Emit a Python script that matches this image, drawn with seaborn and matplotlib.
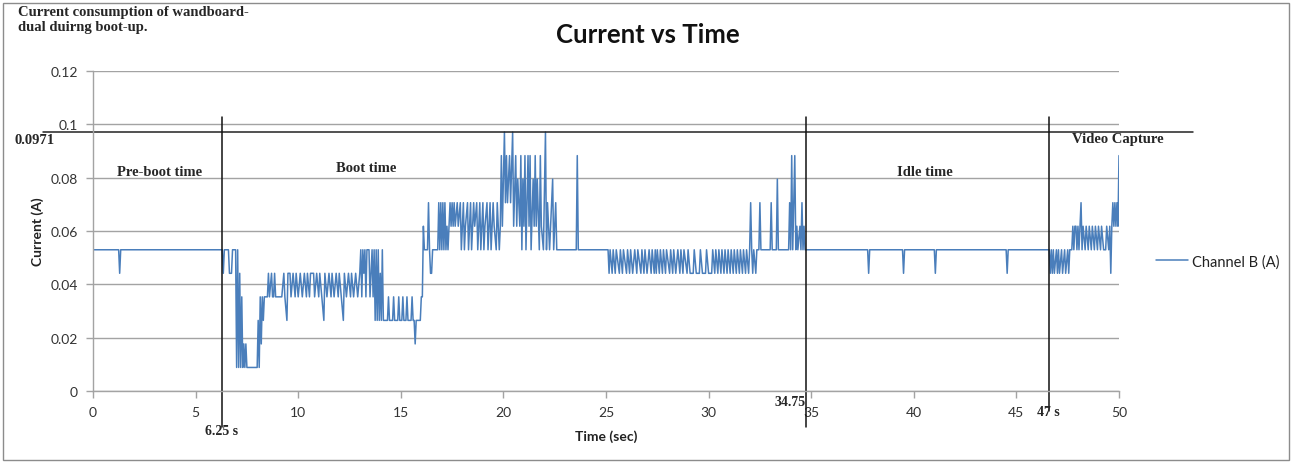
import numpy as np
import pandas as pd
import matplotlib
matplotlib.use("Agg")
import matplotlib.pyplot as plt
from matplotlib.patches import Rectangle
import seaborn as sns

# Channel B current, read off the scope capture. Samples are ADC counts,
# one count = PEAK / 11 amps (0.0971 A was the maximum seen = 11 counts).
PEAK = 0.0971
LSB = PEAK / 11

# (time s, counts) per phase
PREBOOT = [(0, 6), (1.25, 6), (1.3, 5), (1.35, 6), (6.3, 6)]

BOOT = [
    (6.35, 5), (6.4, 6), (6.6, 6), (6.65, 5), (6.75, 5), (6.8, 6), (6.95, 6),
    (7.0, 1), (7.05, 6), (7.1, 1), (7.15, 5), (7.2, 1), (7.25, 4), (7.3, 1),
    (7.35, 2), (7.4, 1), (7.45, 2), (7.5, 1), (8.0, 1), (8.05, 3), (8.1, 1),
    (8.15, 4), (8.2, 2), (8.25, 4), (8.3, 3), (8.35, 4), (8.5, 4),
    (8.55, 5), (8.6, 4), (8.7, 5), (8.75, 4), (8.8, 4), (8.85, 5), (8.9, 4),
    (9.2, 4), (9.3, 5), (9.35, 4), (9.45, 3), (9.5, 5), (9.6, 5), (9.65, 4),
    (9.75, 5), (9.85, 4), (9.9, 5), (10.0, 4), (10.1, 5), (10.2, 4), (10.3, 5),
    (10.4, 4), (10.45, 5), (10.55, 4), (10.6, 5), (10.75, 5), (10.8, 4),
    (10.9, 5), (11.0, 4), (11.05, 5), (11.15, 4), (11.25, 3), (11.3, 5),
    (11.4, 4), (11.5, 5), (11.6, 4), (11.65, 5), (11.75, 4), (11.85, 5),
    (11.95, 4), (12.0, 5), (12.1, 4), (12.2, 3), (12.25, 5), (12.35, 4),
    (12.45, 5), (12.55, 4), (12.6, 5), (12.7, 4), (12.8, 5), (12.9, 4),
    (13.0, 5), (13.05, 6), (13.1, 4), (13.15, 6), (13.2, 5), (13.25, 6),
    (13.3, 4), (13.35, 6), (13.45, 6), (13.5, 4), (13.55, 5), (13.6, 6),
    (13.65, 4), (13.7, 6), (13.75, 3), (13.8, 6), (13.85, 3), (13.9, 6),
    (13.95, 3), (14.0, 5), (14.05, 3), (14.1, 6), (14.15, 3), (14.35, 3),
    (14.4, 4), (14.45, 3), (14.6, 3), (14.65, 4), (14.7, 3), (14.85, 3),
    (14.9, 4), (14.95, 3), (15.05, 3), (15.1, 4), (15.15, 3), (15.25, 3),
    (15.3, 4), (15.35, 3), (15.5, 3), (15.55, 4), (15.6, 3), (15.65, 3),
    (15.7, 2), (15.75, 3), (15.95, 3), (16.0, 4), (16.05, 4), (16.1, 7),
    (16.15, 6), (16.3, 6), (16.35, 8), (16.4, 6), (16.45, 5), (16.5, 5),
    (16.55, 6), (16.8, 6), (16.85, 8), (16.9, 6), (16.95, 8), (17.0, 6),
    (17.05, 8), (17.1, 6), (17.15, 8), (17.2, 6), (17.25, 7), (17.3, 6),
    (17.4, 8), (17.45, 7), (17.5, 8), (17.55, 7), (17.6, 8), (17.65, 7),
    (17.75, 8), (17.8, 7), (17.9, 8), (17.95, 6), (18.05, 8), (18.1, 6),
    (18.15, 7), (18.25, 8), (18.3, 6), (18.4, 8), (18.45, 6), (18.55, 8),
    (18.6, 7), (18.7, 8), (18.75, 6), (18.85, 8), (18.9, 6), (19.0, 8),
    (19.05, 6), (19.1, 7), (19.2, 8), (19.25, 6), (19.35, 8), (19.4, 6),
    (19.5, 8), (19.55, 7), (19.65, 6), (19.7, 8), (19.8, 6), (19.85, 7),
    (19.9, 10), (19.95, 7), (20.05, 11), (20.1, 8), (20.15, 10), (20.2, 8),
    (20.3, 10), (20.35, 8), (20.45, 11), (20.5, 7), (20.6, 10), (20.65, 7),
    (20.7, 9), (20.8, 7), (20.85, 10), (20.9, 6), (20.95, 9), (21.0, 7),
    (21.05, 10), (21.1, 6), (21.2, 10), (21.25, 7), (21.3, 10), (21.35, 6),
    (21.45, 9), (21.5, 7), (21.55, 10), (21.6, 7), (21.65, 9), (21.75, 6),
    (21.8, 10), (21.85, 7), (21.95, 6), (22.05, 11), (22.1, 6), (22.15, 8),
    (22.25, 6), (22.3, 7), (22.4, 9), (22.45, 6), (22.55, 8), (22.6, 6),
    (23.55, 6), (23.6, 10), (23.65, 6), (25.1, 6),
    (25.15, 5), (25.2, 6), (25.3, 5), (25.35, 6), (25.45, 5), (25.5, 6),
    (25.65, 5), (25.7, 6), (25.8, 5), (25.85, 6), (26.0, 5), (26.05, 6),
    (26.15, 5), (26.2, 6), (26.3, 5), (26.4, 6), (26.5, 5), (26.55, 6),
    (26.7, 5), (26.75, 6), (26.85, 5), (26.9, 6), (27.0, 5), (27.1, 6),
    (27.2, 5), (27.25, 6), (27.35, 5), (27.4, 6), (27.45, 5), (27.5, 6),
    (27.6, 5), (27.65, 6), (27.75, 5), (27.8, 6), (27.9, 5), (27.95, 6),
    (28.1, 5), (28.15, 6), (28.25, 5), (28.3, 6), (28.4, 5), (28.5, 6),
    (28.6, 5), (28.65, 6), (28.75, 5), (28.8, 6), (28.95, 5), (29.0, 6),
    (29.1, 5), (29.25, 5), (29.3, 6), (29.4, 5), (29.55, 5), (29.6, 6),
    (29.7, 5), (29.85, 5), (29.9, 6), (30.0, 5), (30.15, 5), (30.2, 6),
    (30.3, 5), (30.35, 6), (30.45, 5), (30.5, 6), (30.6, 5), (30.65, 6),
    (30.75, 5), (30.8, 6), (30.9, 5), (30.95, 6), (31.05, 5), (31.1, 6),
    (31.2, 5), (31.25, 6), (31.35, 5), (31.4, 6), (31.5, 5), (31.55, 6),
    (31.65, 5), (31.7, 6), (31.8, 5), (31.85, 6), (31.95, 5), (32.0, 6),
    (32.05, 8), (32.1, 6), (32.15, 5), (32.2, 6), (32.3, 5), (32.35, 6),
    (32.45, 6), (32.5, 8), (32.55, 6), (33.0, 6), (33.05, 8), (33.1, 6),
    (33.3, 6), (33.35, 9), (33.4, 6), (33.9, 6), (33.95, 8), (34.0, 6),
    (34.05, 10), (34.1, 6), (34.2, 10), (34.25, 6), (34.3, 7), (34.35, 6),
    (34.45, 7), (34.5, 6), (34.55, 8), (34.6, 6), (34.65, 7), (34.7, 6),
]

IDLE = [
    (34.8, 6), (37.75, 6), (37.8, 5), (37.85, 6), (39.45, 6), (39.5, 5),
    (39.55, 6), (41.0, 6), (41.05, 5), (41.1, 6), (44.5, 6), (44.55, 5),
    (44.6, 6), (46.6, 6),
]

VIDEO = [
    (46.65, 5), (46.7, 6), (46.75, 5), (46.8, 6), (46.85, 5), (46.95, 6),
    (47.0, 5), (47.05, 6), (47.1, 5), (47.2, 6), (47.25, 5), (47.35, 6),
    (47.4, 5), (47.5, 6), (47.55, 5), (47.6, 6), (47.7, 6), (47.75, 7),
    (47.8, 6), (47.85, 7), (47.9, 7), (47.95, 6), (48.0, 7), (48.05, 6),
    (48.15, 8), (48.2, 6), (48.25, 7), (48.35, 6), (48.4, 7), (48.5, 6),
    (48.55, 7), (48.65, 6), (48.7, 7), (48.8, 6), (48.85, 7), (48.95, 6),
    (49.0, 7), (49.1, 6), (49.15, 7), (49.25, 6), (49.35, 6), (49.4, 7),
    (49.5, 6), (49.55, 7), (49.6, 5), (49.65, 7), (49.7, 8), (49.75, 7),
    (49.8, 8), (49.85, 7), (49.9, 8), (49.95, 7), (50.0, 10),
]

# phase boundaries (where the markers were drawn) and their labels
BOUNDARY_T = [6.3, 34.75, 46.6]
BOUNDARY_LABELS = ["6.25 s", "34.75", "47 s"]
PHASES = ["Pre-boot time", "Boot time", "Idle time", "Video Capture"]

YTICKS = [0, 0.02, 0.04, 0.06, 0.08, 0.1, 0.12]
YTICK_LABELS = ["0", "0.02", "0.04", "0.06", "0.08", "0.1", "0.12"]
XTICKS = list(range(0, 51, 5))

samples = PREBOOT + BOOT + IDLE + VIDEO
df = pd.DataFrame(samples, columns=["time", "counts"])
df["current"] = df["counts"] * LSB

sns.set_theme(style="white")
plt.rcParams["font.family"] = ["Lato", "DejaVu Sans"]

W, H = 1298, 464
fig = plt.figure(figsize=(W / 100, H / 100), dpi=100)
ax = fig.add_axes([93 / W, 1 - 392 / H, 1026 / W, 320 / H])


def px(x, y):
    # pixel position -> figure fraction
    return x / W, 1 - y / H


GRID = "#a3a3a3"
BLUE = "#4a7ebb"
SERIF = ["Liberation Serif", "DejaVu Serif"]

sns.lineplot(data=df, x="time", y="current", ax=ax, color=BLUE, lw=1.1,
             estimator=None, sort=False, label="Channel B (A)")

ax.set_xlim(0, 50)
ax.set_ylim(0, 0.12)
ax.set_xticks(XTICKS)
ax.set_yticks(YTICKS)
ax.set_yticklabels(YTICK_LABELS)
ax.yaxis.grid(True, color=GRID, lw=1)
ax.xaxis.grid(False)
for s in ["top", "right"]:
    ax.spines[s].set_visible(False)
for s in ["left", "bottom"]:
    ax.spines[s].set_color(GRID)
    ax.spines[s].set_linewidth(1)
ax.tick_params(bottom=True, left=True, direction="out", length=5, width=1,
               color=GRID, labelsize=10, labelcolor="#333333", pad=6)
ax.set_xlabel("")
ax.set_ylabel("")

# peak line and phase markers
ax.axhline(PEAK, xmin=-0.049, xmax=1.072, color="#222222", lw=1.1, clip_on=False)
bottoms = [-0.0135, -0.0135, -0.0075]
for t, yb in zip(BOUNDARY_T, bottoms):
    ax.plot([t, t], [yb, 0.1027], color="#111111", lw=1.1, clip_on=False)

leg = ax.legend(loc="center left", bbox_to_anchor=(1.03, 0.405), frameon=False,
                handlelength=2.2, handletextpad=0.3, fontsize=10.5,
                borderaxespad=0)
for t in leg.get_texts():
    t.set_color("#222222")

# texts
fig.text(*px(648, 35), "Current vs Time", ha="center", va="center",
         fontsize=18.5, fontweight="bold", color="#111111")
fig.text(*px(18, 6), "Current consumption of wandboard-\ndual duirng boot-up.",
         ha="left", va="top", fontsize=10.5, fontweight="bold", family=SERIF,
         linespacing=1.2)
fig.text(*px(38, 232), "Current (A)", rotation=90, ha="center", va="center",
         fontsize=10, fontweight="bold", color="#222222")
fig.text(*px(606, 437), "Time (sec)", ha="center", va="center",
         fontsize=10, fontweight="bold", color="#222222")
fig.text(*px(35, 140), "0.0971", ha="center", va="center", fontsize=10.5,
         fontweight="bold", family=SERIF)

phase_pos = [(160, 172), (366, 169), (925, 173), (1118, 140)]
for name, (x, y) in zip(PHASES, phase_pos):
    fig.text(*px(x, y), name, ha="center", va="center", fontsize=10.5,
             fontweight="bold", family=SERIF)

label_pos = [(222, 432), (790, 402), (1048, 412)]
for name, (x, y) in zip(BOUNDARY_LABELS, label_pos):
    fig.text(*px(x, y), name, ha="center", va="center", fontsize=10,
             fontweight="bold", family=SERIF)

# chart-area border
fig.patches.append(Rectangle((3 / W, 1 - 461 / H), 1286 / W, 457 / H,
                             transform=fig.transFigure, fill=False,
                             edgecolor="#8c8c8c", lw=1))

fig.savefig("out.png", dpi=100)
